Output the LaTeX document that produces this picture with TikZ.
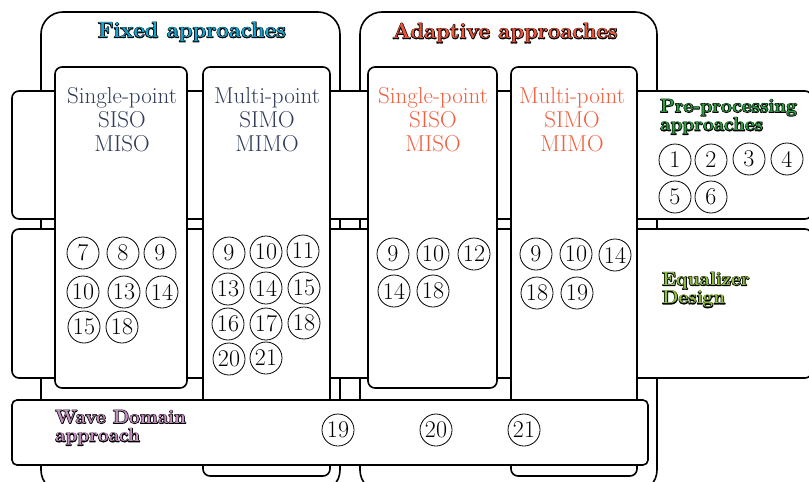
\documentclass[tikz,border=0pt]{standalone}
\usepackage{fontspec}
\usepackage{xcolor}
\definecolor{fixedc}{HTML}{15A4CF}
\definecolor{adaptc}{HTML}{E8563A}
\definecolor{labelc}{HTML}{2F3B58}
\definecolor{adlabel}{HTML}{F0603F}
\definecolor{prec}{HTML}{2E9E42}
\definecolor{eqc}{HTML}{8FBF3F}
\definecolor{wavec}{HTML}{C48FC0}
% coloured letters over a black stroked copy, which leaves a dark rim round each glyph
\newcommand{\outl}[2]{{\rlap{\special{pdf:literal direct 1 Tr 1.4 w 1 j 0 0 0 RG}#2\special{pdf:literal direct 0 Tr}}\color{#1}#2}}
\begin{document}
\begin{tikzpicture}[x=1pt,y=-1pt,
  panel/.style={draw=black, line width=1.6pt, fill=white, rounded corners=7pt},
  bigbox/.style={panel, rounded corners=22pt},
  refno/.style={circle, draw=black, line width=0.8pt, minimum size=32pt, inner sep=0pt,
    font=\fontsize{24}{24}\selectfont},
  coltext/.style={align=center, font=\fontsize{23}{24}\selectfont},
  title/.style={font=\fontsize{22}{22}\selectfont\bfseries},
  rowtitle/.style={align=left, anchor=north west, inner sep=0pt,
    font=\fontsize{19}{18.5}\selectfont\bfseries}]
\useasboundingbox (0,0) rectangle (809,482);
\clip (0,0) rectangle (809,482);

% outer approach frames
\draw[bigbox] (41,12) rectangle (340,492);
\draw[bigbox] (360,12) rectangle (657,492);

% horizontal stages
\draw[panel] (12,91) rectangle (812,219);
\draw[panel] (12,229) rectangle (812,378);

% method columns
\draw[panel] (55,67) rectangle (187,388);
\draw[panel] (203,67) rectangle (330,476);
\draw[panel] (368,67) rectangle (497,388);
\draw[panel] (511,67) rectangle (637,476);

% wave domain stage
\draw[panel, rounded corners=5pt] (12,400) rectangle (648,465);

% titles
\node[title] (tfixed) at (192,32) {\outl{fixedc}{Fixed approaches}};
\node[title] (tadapt) at (505,33) {\outl{adaptc}{Adaptive approaches}};

\node[coltext, text=labelc] (c1) at (122,120) {Single-point\\SISO\\MISO};
\node[coltext, text=labelc] (c2) at (267,120) {Multi-point\\SIMO\\MIMO};
\node[coltext, text=adlabel] (c3) at (433,120) {Single-point\\SISO\\MISO};
\node[coltext, text=adlabel] (c4) at (572,120) {Multi-point\\SIMO\\MIMO};

\node[rowtitle] (tpre) at (660,99) {\outl{prec}{Pre-processing}\\\outl{prec}{approaches}};
\node[rowtitle] (teq) at (662,272) {\outl{eqc}{Equalizer}\\\outl{eqc}{Design}};
\node[rowtitle] (twave) at (55,410) {\outl{wavec}{Wave Domain}\\\outl{wavec}{approach}};

% pre-processing references
\node[refno] (p1) at (675,160) {1};
\node[refno] (p2) at (711,160) {2};
\node[refno] (p3) at (749,159) {3};
\node[refno] (p4) at (787,159) {4};
\node[refno] (p5) at (675,197) {5};
\node[refno] (p6) at (711,197) {6};

% fixed, single-point
\node[refno] (a7) at (83,253) {7};
\node[refno] (a8) at (123,253) {8};
\node[refno] (a9) at (160,253) {9};
\node[refno] (a10) at (83,292) {10};
\node[refno] (a13) at (124,292) {13};
\node[refno] (a14) at (162,292) {14};
\node[refno] (a15) at (84,327) {15};
\node[refno] (a18) at (122,327) {18};

% fixed, multi-point
\node[refno] (b9) at (229,253) {9};
\node[refno] (b10) at (266,252) {10};
\node[refno] (b11) at (303,251) {11};
\node[refno] (b13) at (228,289) {13};
\node[refno] (b14) at (266,288) {14};
\node[refno] (b15) at (304,288) {15};
\node[refno] (b16) at (228,324) {16};
\node[refno] (b17) at (266,324) {17};
\node[refno] (b18) at (304,323) {18};
\node[refno] (b20) at (229,359) {20};
\node[refno] (b21) at (266,358) {21};

% adaptive, single-point
\node[refno] (d9) at (393,254) {9};
\node[refno] (d10) at (433,254) {10};
\node[refno] (d12) at (474,254) {12};
\node[refno] (d14) at (394,291) {14};
\node[refno] (d18) at (433,291) {18};

% adaptive, multi-point
\node[refno] (e9) at (536,254) {9};
\node[refno] (e10) at (576,254) {10};
\node[refno] (e14) at (615,255) {14};
\node[refno] (e18) at (537,293) {18};
\node[refno] (e19) at (577,293) {19};

% wave domain references
\node[refno] (w19) at (338,430) {19};
\node[refno] (w20) at (436,430) {20};
\node[refno] (w21) at (524,430) {21};
\end{tikzpicture}
\end{document}
